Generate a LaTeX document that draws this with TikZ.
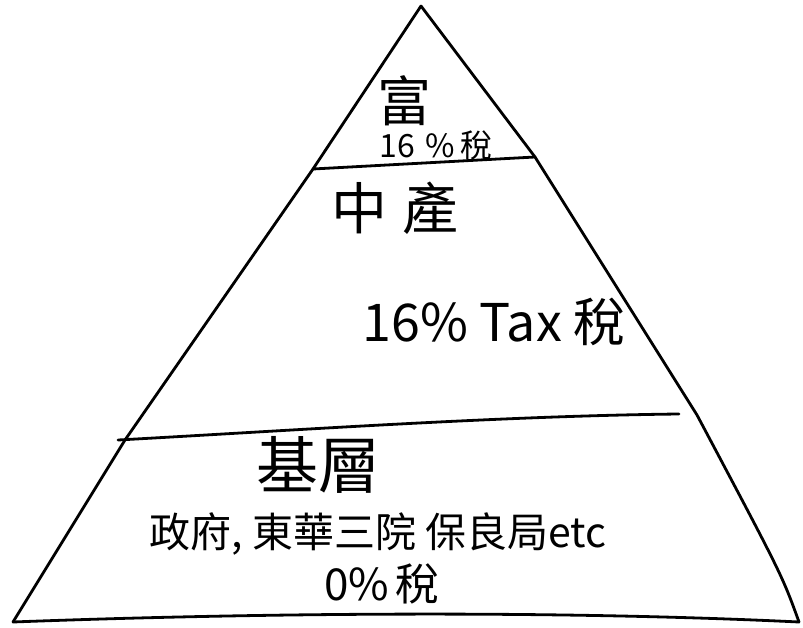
\documentclass[tikz,border=0pt]{standalone}
\usepackage{fontspec}
\setmainfont{Noto Sans CJK TC}
\begin{document}
\begin{tikzpicture}[x=1pt,y=-1pt,
  edge/.style={line width=2.8pt,line cap=round,line join=round},
  lbl/.style={inner sep=0pt,anchor=center}]
\useasboundingbox (0,0) rectangle (803,628);
% corners and edge points
\coordinate (apex) at (421,6);
\coordinate (bl) at (13,622);
\coordinate (br) at (799,622);
\coordinate (t1) at (313,169);
\coordinate (t2) at (535,157);
\coordinate (m1) at (118,440);
\coordinate (m2) at (679,414);
\coordinate (l1) at (125,440);
\coordinate (r1) at (697,415);
\coordinate (r2) at (782,575);
\draw[edge] (bl) -- (l1) -- (t1) -- (apex);
\draw[edge] (apex) -- (t2) -- (r1) .. controls (r2) .. (br);
\draw[edge] (bl) .. controls (250,613) and (550,610) .. (br);
\draw[edge] (t1) -- (t2);
\draw[edge] (m1) .. controls (300,430) and (500,416) .. (m2);
% labels
\node[lbl,font=\fontsize{54}{54}\selectfont] (rich) at (404,101) {富};
\node[lbl,font=\fontsize{32}{32}\selectfont] (richtax) at (436,145) {16\hspace{10pt}\%\hspace{6pt}稅};
\node[lbl,font=\fontsize{56}{56}\selectfont] (mid) at (395,208) {中\hspace{16pt}產};
\node[lbl,font=\fontsize{52}{52}\selectfont] (midtax) at (494,322) {16\%\hspace{12pt}Tax 稅};
\node[lbl,font=\fontsize{62}{62}\selectfont] (base) at (318,465) {基層};
\node[lbl,font=\fontsize{41}{41}\selectfont] (orgs) at (378,534) {政府, 東華三院 保良局etc};
\node[lbl,font=\fontsize{44}{44}\selectfont] (basetax) at (382,584) {0\%\hspace{6pt}稅};
\end{tikzpicture}
\end{document}
